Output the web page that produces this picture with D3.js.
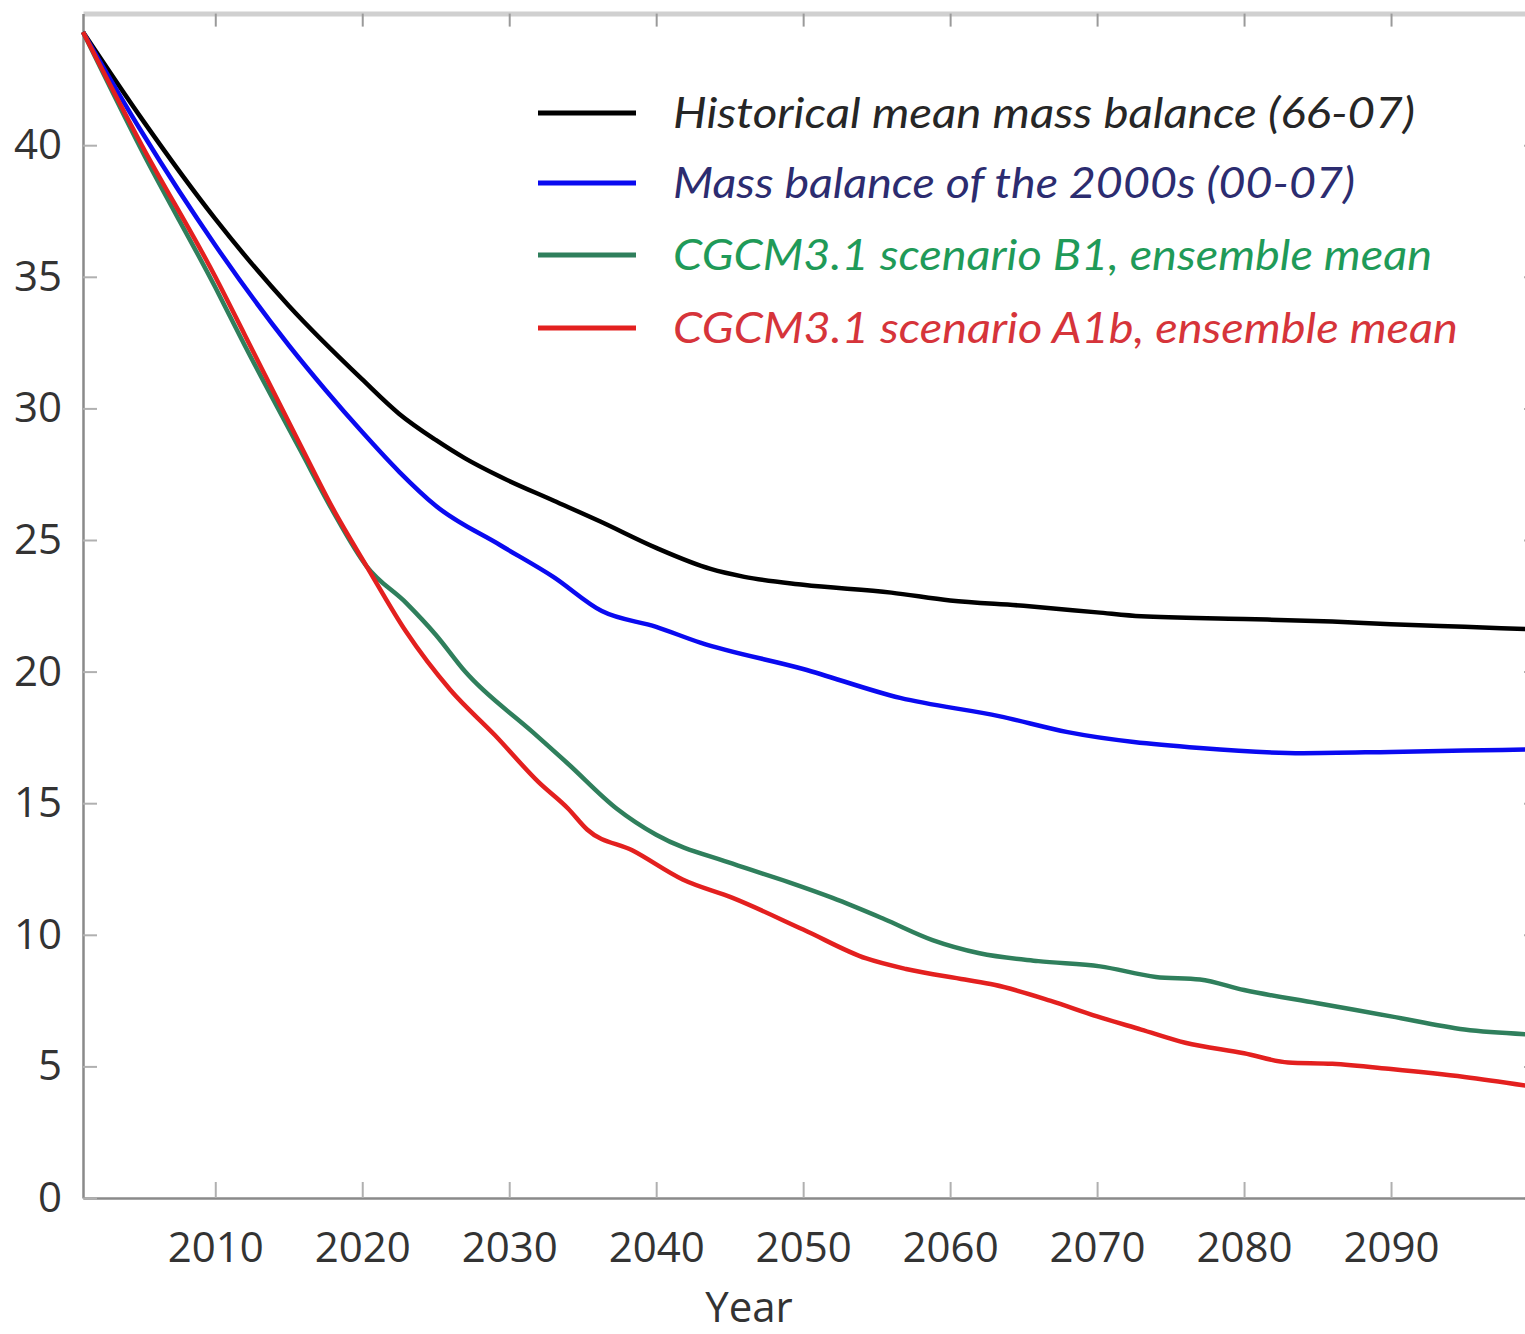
<!DOCTYPE html>
<html>
<head>
<meta charset="utf-8">
<script src="https://cdn.jsdelivr.net/npm/d3@7"></script>
<style>
  body { margin: 0; background: #fff; overflow: hidden; }
  svg { display: block; }
</style>
</head>
<body>
<div id="chart"></div>
<script>
// data
const histYears = [2001, 2005, 2010, 2015, 2020, 2022.5, 2025, 2027, 2029.4, 2033, 2036.2, 2040, 2043.7, 2046, 2050, 2056, 2060, 2065, 2070, 2073, 2080, 2086, 2090, 2095, 2100];
const histVals  = [44.3, 41.0, 37.2, 33.9, 31.1, 29.8, 28.8, 28.1, 27.4, 26.5, 25.7, 24.7, 23.9, 23.6, 23.3, 23.0, 22.7, 22.5, 22.25, 22.1, 22.0, 21.9, 21.8, 21.7, 21.6];

const recentYears = [2001, 2005, 2010, 2015, 2017.5, 2020, 2022.5, 2025, 2029.4, 2033, 2036.3, 2040, 2043, 2050, 2056.6, 2063.4, 2068, 2077, 2084, 2090, 2095, 2100];
const recentVals  = [44.3, 40.5, 36.2, 32.4, 30.7, 29.1, 27.6, 26.3, 24.8, 23.6, 22.3, 21.7, 21.1, 20.1, 19.0, 18.3, 17.7, 17.1, 16.9, 16.95, 17.0, 17.05];

const b1Years = [2001, 2005, 2010, 2012, 2015.8, 2018, 2020.3, 2023, 2025, 2027, 2031.6, 2034, 2037.3, 2040, 2045.2, 2049, 2052, 2055.5, 2058.8, 2062, 2066, 2070.2, 2074, 2077, 2080, 2085, 2090, 2095, 2100];
const b1Vals  = [44.3, 39.8, 34.6, 32.4, 28.4, 26.1, 24.0, 22.6, 21.4, 20.0, 17.7, 16.5, 14.8, 13.8, 12.7, 12.0, 11.4, 10.6, 9.8, 9.3, 9.0, 8.8, 8.4, 8.3, 7.9, 7.4, 6.9, 6.4, 6.2];

const a1bYears = [2001, 2005, 2010, 2012, 2015.8, 2018, 2020.3, 2023, 2026, 2029, 2032, 2034, 2035.3, 2038.4, 2041.8, 2045.2, 2050, 2054.3, 2057, 2061, 2063, 2066.8, 2070, 2073, 2076, 2080, 2083, 2086, 2090, 2095, 2100];
const a1bVals  = [44.3, 40.0, 35.0, 32.8, 28.6, 26.2, 24.0, 21.5, 19.3, 17.6, 15.8, 14.8, 14.0, 13.2, 12.1, 11.4, 10.2, 9.1, 8.7, 8.3, 8.1, 7.5, 6.9, 6.4, 5.9, 5.5, 5.15, 5.1, 4.9, 4.6, 4.2];

const seriesNames = [
  "Historical mean mass balance (66-07)",
  "Mass balance of the 2000s (00-07)",
  "CGCM3.1 scenario B1, ensemble mean",
  "CGCM3.1 scenario A1b, ensemble mean"
];
const lineColors = ["#000000", "#0a0af0", "#2f7f5c", "#e3201f"];
const textColors = ["#262626", "#2c2c70", "#1f9a58", "#d6343a"];

const xTicks = [2010, 2020, 2030, 2040, 2050, 2060, 2070, 2080, 2090];
const yTicks = [0, 5, 10, 15, 20, 25, 30, 35, 40];
const xLabel = "Year";

const W = 1525, H = 1334;
const svg = d3.select("#chart").append("svg")
    .attr("width", W).attr("height", H);

const x = d3.scaleLinear().domain([2001, 2100]).range([83, 1538]);
const y = d3.scaleLinear().domain([0, 45]).range([1198, 13.6]);

const series = [
  {name: seriesNames[0], years: histYears, vals: histVals},
  {name: seriesNames[1], years: recentYears, vals: recentVals},
  {name: seriesNames[2], years: b1Years, vals: b1Vals},
  {name: seriesNames[3], years: a1bYears, vals: a1bVals}
];

// axes
const tickFont = "'Open Sans', sans-serif";

svg.append("g")
    .attr("transform", "translate(0," + y(45) + ")")
    .call(d3.axisTop(x).tickValues(xTicks).tickSize(-13).tickSizeOuter(0).tickFormat(""))
    .call(g => g.select(".domain").attr("stroke", "#d0d0d0").attr("stroke-width", 5))
    .call(g => g.selectAll(".tick line").attr("stroke", "#9a9a9a").attr("stroke-width", 2));

svg.append("g")
    .attr("transform", "translate(" + x(2100) + ",0)")
    .call(d3.axisRight(y).tickValues(yTicks).tickSize(-14).tickSizeOuter(0).tickFormat(""))
    .call(g => g.select(".domain").attr("stroke", "#8a8a8a").attr("stroke-width", 2.5))
    .call(g => g.selectAll(".tick line").attr("stroke", "#b0b0b0").attr("stroke-width", 2));

svg.append("g")
    .attr("transform", "translate(0," + y(0) + ")")
    .call(d3.axisBottom(x).tickValues(xTicks).tickSize(-16).tickSizeOuter(0).tickPadding(34).tickFormat(d3.format("d")))
    .call(g => g.select(".domain").attr("stroke", "#8a8a8a").attr("stroke-width", 2.5))
    .call(g => g.selectAll(".tick line").attr("stroke", "#b0b0b0").attr("stroke-width", 2))
    .call(g => g.selectAll(".tick text")
        .attr("fill", "#333").style("font-family", tickFont).style("font-size", "42px"));

svg.append("g")
    .attr("transform", "translate(" + x(2001) + ",0)")
    .call(d3.axisLeft(y).tickValues(yTicks).tickSize(-14).tickSizeOuter(0).tickPadding(21))
    .call(g => g.select(".domain").attr("stroke", "#8a8a8a").attr("stroke-width", 2.5))
    .call(g => g.selectAll(".tick line").attr("stroke", "#b0b0b0").attr("stroke-width", 2))
    .call(g => g.selectAll(".tick text")
        .attr("fill", "#333").style("font-family", tickFont).style("font-size", "42px"));

svg.append("text")
    .attr("x", 749)
    .attr("y", 1322)
    .attr("text-anchor", "middle")
    .attr("fill", "#333")
    .style("font-family", tickFont)
    .style("font-size", "42px")
    .text(xLabel);

// lines
const line = d3.line()
    .x(d => x(d[0]))
    .y(d => y(d[1]))
    .curve(d3.curveMonotoneX);

svg.append("g")
    .selectAll("path")
    .data(series)
    .enter()
    .append("path")
    .attr("fill", "none")
    .attr("stroke", (d, i) => lineColors[i])
    .attr("stroke-width", 4.5)
    .attr("stroke-linejoin", "round")
    .attr("d", d => line(d.years.map((yr, i) => [yr, d.vals[i]])));

// legend
const legendY = [113, 183, 255, 328];
const legendW = [742, 682, 759, 785];
const legend = svg.append("g");

legend.selectAll("line")
    .data(seriesNames)
    .enter()
    .append("line")
    .attr("x1", 538).attr("x2", 636)
    .attr("y1", (d, i) => legendY[i]).attr("y2", (d, i) => legendY[i])
    .attr("stroke", (d, i) => lineColors[i])
    .attr("stroke-width", 5);

legend.selectAll("text")
    .data(seriesNames)
    .enter()
    .append("text")
    .attr("x", 673)
    .attr("y", (d, i) => legendY[i] + 15)
    .attr("fill", (d, i) => textColors[i])
    .attr("textLength", (d, i) => legendW[i])
    .attr("lengthAdjust", "spacingAndGlyphs")
    .style("font-family", "Lato, 'Open Sans', sans-serif")
    .style("font-style", "italic")
    .style("font-size", "42px")
    .text(d => d);
</script>
</body>
</html>
